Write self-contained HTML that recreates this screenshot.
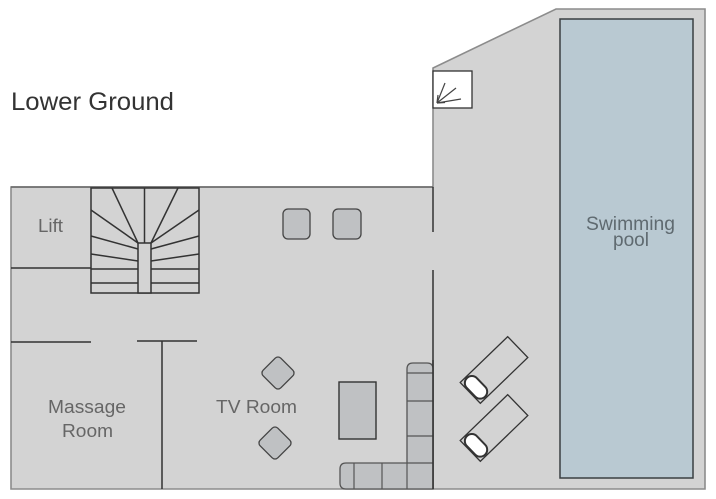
<!DOCTYPE html>
<html>
<head>
<meta charset="utf-8">
<style>
html,body{margin:0;padding:0;background:#fff;}
body{width:716px;height:499px;overflow:hidden;}
svg{display:block;}
text{font-family:"Liberation Sans",Arial,sans-serif;}
</style>
</head>
<body>
<svg width="716" height="499" viewBox="0 0 716 499" xmlns="http://www.w3.org/2000/svg">
  <rect x="0" y="0" width="716" height="499" fill="#ffffff"/>

  <!-- Outer floor shape -->
  <path d="M11,187 L433,187 L433,68 L556,9 L705,9 L705,489 L11,489 Z" fill="#d3d3d3" stroke="#8c8c8c" stroke-width="1.6"/>
  <line x1="11" y1="187" x2="433" y2="187" stroke="#666" stroke-width="1.4"/>

  <!-- Pool -->
  <rect x="560" y="19" width="133" height="459" fill="#b9c9d2" stroke="#3a3f42" stroke-width="1.5"/>

  <!-- Skylight box -->
  <rect x="433" y="71" width="39" height="37" fill="#ffffff" stroke="#333" stroke-width="1.3"/>
  <g stroke="#444" stroke-width="1.2" fill="none">
    <line x1="437" y1="103" x2="445" y2="83"/>
    <line x1="437" y1="103" x2="456" y2="88"/>
    <line x1="437" y1="103" x2="461" y2="99"/>
    <line x1="437" y1="103" x2="438" y2="95"/>
    <line x1="437" y1="103" x2="445" y2="102.5"/>
  </g>

  <!-- Interior walls -->
  <g stroke="#333" stroke-width="1.5">
    <line x1="11" y1="268" x2="91" y2="268"/>
    <line x1="11" y1="342" x2="91" y2="342"/>
    <line x1="137" y1="341" x2="197" y2="341"/>
    <line x1="162" y1="341" x2="162" y2="489"/>
    <line x1="433" y1="187" x2="433" y2="232"/>
    <line x1="433" y1="270" x2="433" y2="489"/>
  </g>

  <!-- Stairs -->
  <g stroke="#333" stroke-width="1.5" fill="none">
    <rect x="91" y="188" width="108" height="105"/>
    <rect x="138" y="243" width="13" height="50" fill="#d3d3d3"/>
    <line x1="112" y1="188" x2="138" y2="243"/>
    <line x1="144.5" y1="188" x2="144.5" y2="243"/>
    <line x1="178" y1="188" x2="151" y2="243"/>
    <line x1="91" y1="210" x2="138" y2="243"/>
    <line x1="91" y1="236" x2="138" y2="249"/>
    <line x1="91" y1="254" x2="138" y2="261"/>
    <line x1="199" y1="210" x2="151" y2="243"/>
    <line x1="199" y1="236" x2="151" y2="249"/>
    <line x1="199" y1="254" x2="151" y2="261"/>
    <line x1="91" y1="269" x2="138" y2="269"/>
    <line x1="91" y1="283" x2="138" y2="283"/>
    <line x1="151" y1="269" x2="199" y2="269"/>
    <line x1="151" y1="283" x2="199" y2="283"/>
  </g>

  <!-- Chairs top -->
  <rect x="283" y="209" width="27" height="30" rx="5" fill="#bfc1c3" stroke="#444" stroke-width="1.3"/>
  <rect x="333" y="209" width="28" height="30" rx="5" fill="#bfc1c3" stroke="#444" stroke-width="1.3"/>

  <!-- Diamonds -->
  <rect x="-12.5" y="-12.5" width="25" height="25" rx="4" transform="translate(278,373) rotate(45)" fill="#bfc1c3" stroke="#444" stroke-width="1.3"/>
  <rect x="-12.5" y="-12.5" width="25" height="25" rx="4" transform="translate(275,443) rotate(45)" fill="#bfc1c3" stroke="#444" stroke-width="1.3"/>

  <!-- Table -->
  <rect x="339" y="382" width="37" height="57" fill="#bfc1c3" stroke="#333" stroke-width="1.4"/>

  <!-- L sofa -->
  <path d="M340,469 Q340,463 346,463 L407,463 L407,369 Q407,363 413,363 L427,363 Q433,363 433,369 L433,489 L346,489 Q340,489 340,483 Z" fill="#bfc1c3" stroke="#555" stroke-width="1.3"/>
  <g stroke="#555" stroke-width="1.2">
    <line x1="407" y1="373" x2="433" y2="373"/>
    <line x1="407" y1="401" x2="433" y2="401"/>
    <line x1="407" y1="436" x2="433" y2="436"/>
    <line x1="407" y1="463" x2="433" y2="463"/>
    <line x1="354" y1="463" x2="354" y2="489"/>
    <line x1="382" y1="463" x2="382" y2="489"/>
    <line x1="407" y1="463" x2="407" y2="489"/>
  </g>
  <line x1="433" y1="360" x2="433" y2="489" stroke="#333" stroke-width="1.5"/>

  <!-- Loungers -->
  <g transform="translate(494,370) rotate(-44)">
    <rect x="-33" y="-14.5" width="66" height="29" fill="#d3d3d3" stroke="#333" stroke-width="1.3"/>
    <rect x="-32" y="-13" width="14" height="26" rx="7" fill="#ffffff" stroke="#333" stroke-width="2"/>
  </g>
  <g transform="translate(494,428) rotate(-44)">
    <rect x="-33" y="-14.5" width="66" height="29" fill="#d3d3d3" stroke="#333" stroke-width="1.3"/>
    <rect x="-32" y="-13" width="14" height="26" rx="7" fill="#ffffff" stroke="#333" stroke-width="2"/>
  </g>

  <!-- Labels -->
  <text x="11" y="110" font-size="25" fill="#333" textLength="163" lengthAdjust="spacingAndGlyphs">Lower Ground</text>
  <text x="38" y="232" font-size="18.5" fill="#666" textLength="25" lengthAdjust="spacingAndGlyphs">Lift</text>
  <text x="48" y="413" font-size="18" fill="#666" textLength="78" lengthAdjust="spacingAndGlyphs">Massage</text>
  <text x="62" y="437" font-size="18" fill="#666" textLength="51" lengthAdjust="spacingAndGlyphs">Room</text>
  <text x="216" y="413" font-size="18" fill="#666" textLength="81" lengthAdjust="spacingAndGlyphs">TV Room</text>
  <text x="586" y="230" font-size="19" fill="#5f6a70" textLength="89" lengthAdjust="spacingAndGlyphs">Swimming</text>
  <text x="613" y="246" font-size="19" fill="#5f6a70" textLength="36" lengthAdjust="spacingAndGlyphs">pool</text>
</svg>
</body>
</html>
